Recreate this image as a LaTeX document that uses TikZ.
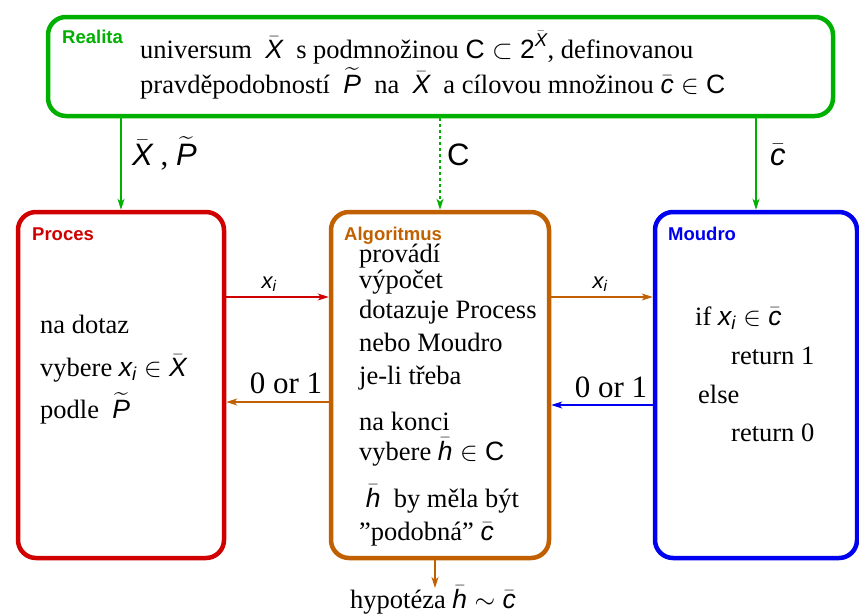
\RequirePackage{fix-cm}
\documentclass[tikz,border=0pt]{standalone}
\usepackage{amsmath}
\usepackage{fontspec}
\setmainfont{Liberation Serif}
\setsansfont{Liberation Sans}
\usetikzlibrary{arrows.meta}
\definecolor{cgreen}{RGB}{0,176,0}
\definecolor{cred}{RGB}{208,0,0}
\definecolor{corange}{RGB}{192,96,0}
\definecolor{cblue}{RGB}{0,0,240}
\newcommand{\sfi}[1]{\text{\sffamily\itshape #1}}
\newcommand{\sfu}[1]{\text{\sffamily\upshape #1}}
\begin{document}
\begin{tikzpicture}[x=1pt,y=-1pt,
  box/.style={draw, line width=4.5pt, rounded corners=18pt, inner sep=0pt},
  lab/.style={font=\sffamily\bfseries\fontsize{18.5}{20}\selectfont, anchor=base west, inner sep=0pt},
  txt/.style={font=\fontsize{26.5}{32}\selectfont, anchor=base west, inner sep=0pt},
  big/.style={font=\fontsize{31}{36}\selectfont, inner sep=0pt},
  sml/.style={font=\fontsize{22}{26}\selectfont, anchor=base, inner sep=0pt},
  arr/.style={-{Stealth[length=11pt,width=7pt,inset=3pt]}, line width=1.2pt},
]
\useasboundingbox (0,0) rectangle (859,614);
% boxes
\node[box, draw=cgreen, minimum width=785pt, minimum height=99pt] (real) at (440.5,66.5) {};
\node[box, draw=cred, minimum width=206pt, minimum height=346pt] (proc) at (121,385) {};
\node[box, draw=corange, minimum width=218pt, minimum height=346pt] (algo) at (440,385) {};
\node[box, draw=cblue, minimum width=202pt, minimum height=346pt] (moud) at (756,385) {};
% box titles
\node[lab, text=cgreen] (lreal) at (62,43) {Realita};
\node[lab, text=cred] (lproc) at (32,240) {Proces};
\node[lab, text=corange] (lalgo) at (344,240) {Algoritmus};
\node[lab, text=cblue] (lmoud) at (668,240) {Moudro};
% Realita text
\node[txt] (r1) at (140,58) {universum \ $\bar{\sfi{X}}$\ \ s podmnožinou $\sfu{C}\subset \sfu{2}^{\bar{\sfi{X}}}$, definovanou};
\node[txt] (r2) at (140,93) {pravděpodobností \ $\widetilde{\sfi{P}}$\ \ na \ $\bar{\sfi{X}}$\ \ a cílovou množinou $\bar{\sfi{c}}\in\sfu{C}$};
% Proces text
\node[txt] (p1) at (40,333) {na dotaz};
\node[txt] (p2) at (40,376) {vybere $\sfi{x}_{\sfi{i}}\in\bar{\sfi{X}}$};
\node[txt] (p3) at (40,418) {podle \ $\widetilde{\sfi{P}}$};
% Algoritmus text
\node[txt] (a1) at (359,262) {provádí};
\node[txt] (a2) at (359,288) {výpočet};
\node[txt] (a3) at (359,318) {dotazuje Process};
\node[txt] (a4) at (359,351) {nebo Moudro};
\node[txt] (a5) at (359,384) {je-li třeba};
\node[txt] (a6) at (359,430) {na konci};
\node[txt] (a7) at (359,460) {vybere $\bar{\sfi{h}}\in\sfu{C}$};
\node[txt] (a8) at (359,507) {\ $\bar{\sfi{h}}$\ \ by měla být};
\node[txt] (a9) at (359,540) {''podobná'' $\bar{\sfi{c}}$};
% Moudro text
\node[txt] (m1) at (695,325) {if $\sfi{x}_{\sfi{i}}\in\bar{\sfi{c}}$};
\node[txt] (m2) at (731,364) {return 1};
\node[txt] (m3) at (698,403) {else};
\node[txt] (m4) at (731,441) {return 0};
% green arrows
\draw[arr, cgreen] (real.south -| proc.north) -- (proc.north);
\draw[arr, cgreen, dashed] (real.south -| algo.north) -- (algo.north);
\draw[arr, cgreen] (real.south -| moud.north) -- (moud.north);
\node[big, anchor=base west] (g1) at (132,165) {$\bar{\sfi{X}}$ , $\widetilde{\sfi{P}}$};
\node[big, anchor=base west] (g2) at (447,165) {$\sfu{C}$};
\node[big, anchor=base west] (g3) at (770,165) {$\bar{\sfi{c}}$};
% horizontal arrows
\draw[arr, cred] (proc.east |- 0,297) -- (algo.west |- 0,297);
\draw[arr, corange] (algo.east |- 0,297) -- (moud.west |- 0,297);
\draw[arr, corange] (algo.west |- 0,402) -- (proc.east |- 0,402);
\draw[arr, cblue] (moud.west |- 0,405) -- (algo.east |- 0,405);
\node[sml] (x1) at (269,288) {$\sfi{x}_{\sfi{i}}$};
\node[sml] (x2) at (600,288) {$\sfi{x}_{\sfi{i}}$};
\node[big, anchor=base] (o1) at (286,393) {0 or 1};
\node[big, anchor=base] (o2) at (611,397) {0 or 1};
% output
\coordinate (hy) at (435,588);
\draw[arr, corange] (algo.south -| hy) -- (hy);
\node[txt] (hyp) at (350,608) {hypotéza $\bar{\sfi{h}}\sim\bar{\sfi{c}}$};
\end{tikzpicture}
\end{document}
